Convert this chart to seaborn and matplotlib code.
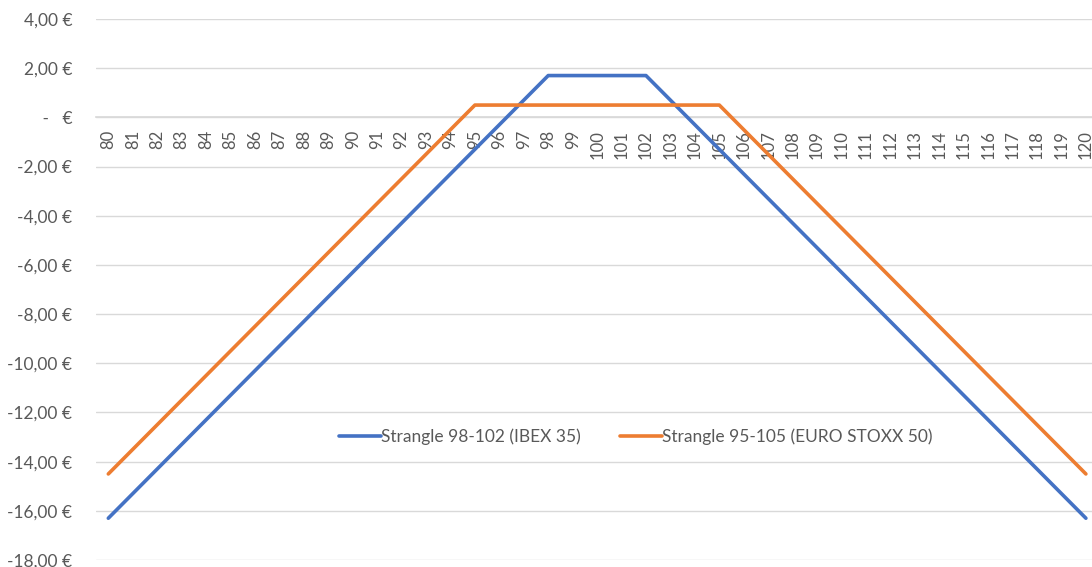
import matplotlib
matplotlib.use("Agg")
import matplotlib.pyplot as plt
import pandas as pd
import seaborn as sns
from matplotlib.ticker import FuncFormatter

# underlying price at expiry
PRICES = list(range(80, 121))

# P&L at expiry
IBEX_STRANGLE = [
    -16.3, -15.3, -14.3, -13.3, -12.3, -11.3, -10.3, -9.3, -8.3, -7.3,
    -6.3, -5.3, -4.3, -3.3, -2.3, -1.3, -0.3, 0.7, 1.7, 1.7,
    1.7, 1.7, 1.7, 0.7, -0.3, -1.3, -2.3, -3.3, -4.3, -5.3,
    -6.3, -7.3, -8.3, -9.3, -10.3, -11.3, -12.3, -13.3, -14.3, -15.3,
    -16.3,
]
STOXX_STRANGLE = [
    -14.5, -13.5, -12.5, -11.5, -10.5, -9.5, -8.5, -7.5, -6.5, -5.5,
    -4.5, -3.5, -2.5, -1.5, -0.5, 0.5, 0.5, 0.5, 0.5, 0.5,
    0.5, 0.5, 0.5, 0.5, 0.5, 0.5, -0.5, -1.5, -2.5, -3.5,
    -4.5, -5.5, -6.5, -7.5, -8.5, -9.5, -10.5, -11.5, -12.5, -13.5,
    -14.5,
]
SERIES_NAMES = ["Strangle 98-102 (IBEX 35)", "Strangle 95-105 (EURO STOXX 50)"]
COLORS = ["#4472C4", "#ED7D31"]
Y_TICKS = list(range(-18, 5, 2))


def euro_fmt(v, _pos):
    if abs(v) < 1e-9:
        return " -   €"
    return f"{v:.2f}".replace(".", ",") + " €"


df = pd.concat([
    pd.DataFrame({"price": PRICES, "pnl": IBEX_STRANGLE, "series": SERIES_NAMES[0]}),
    pd.DataFrame({"price": PRICES, "pnl": STOXX_STRANGLE, "series": SERIES_NAMES[1]}),
])

sns.set_theme(style="white")
plt.rcParams["font.family"] = ["Lato", "DejaVu Sans"]

fig = plt.figure(figsize=(10.92, 5.67), dpi=100)
ax = fig.add_axes([0.088, 0.0123, 0.912, 0.9542])

sns.lineplot(
    data=df, x="price", y="pnl", hue="series",
    palette=COLORS, linewidth=2.6, ax=ax, legend=True,
)

# category axis sits on the zero line, like Excel does it
for side in ["top", "right", "left"]:
    ax.spines[side].set_visible(False)
ax.spines["bottom"].set_position(("data", 0))
ax.spines["bottom"].set_color("#d9d9d9")
ax.spines["bottom"].set_zorder(0)

ax.set_xlim(79.5, 120.25)
ax.set_ylim(-18, 4)
ax.set_yticks(Y_TICKS)
ax.yaxis.set_major_formatter(FuncFormatter(euro_fmt))
ax.set_xticks(PRICES)
ax.set_xticklabels([str(p) for p in PRICES])
ax.grid(axis="y", color="#d9d9d9", linewidth=1)
ax.set_axisbelow(True)

ax.tick_params(axis="x", length=0, pad=9, labelsize=12, labelcolor="#595959",
               labelrotation=90)
ax.tick_params(axis="y", length=0, pad=17, labelsize=12.5, labelcolor="#595959")
ax.set_xlabel("")
ax.set_ylabel("")

ax.legend(
    loc="center", bbox_to_anchor=(0.542, 0.227), ncol=2, frameon=False,
    fontsize=12.5, handlelength=2.4, handletextpad=0.0, columnspacing=2.3,
    labelcolor="#595959",
)

fig.savefig("out.png", dpi=100)
